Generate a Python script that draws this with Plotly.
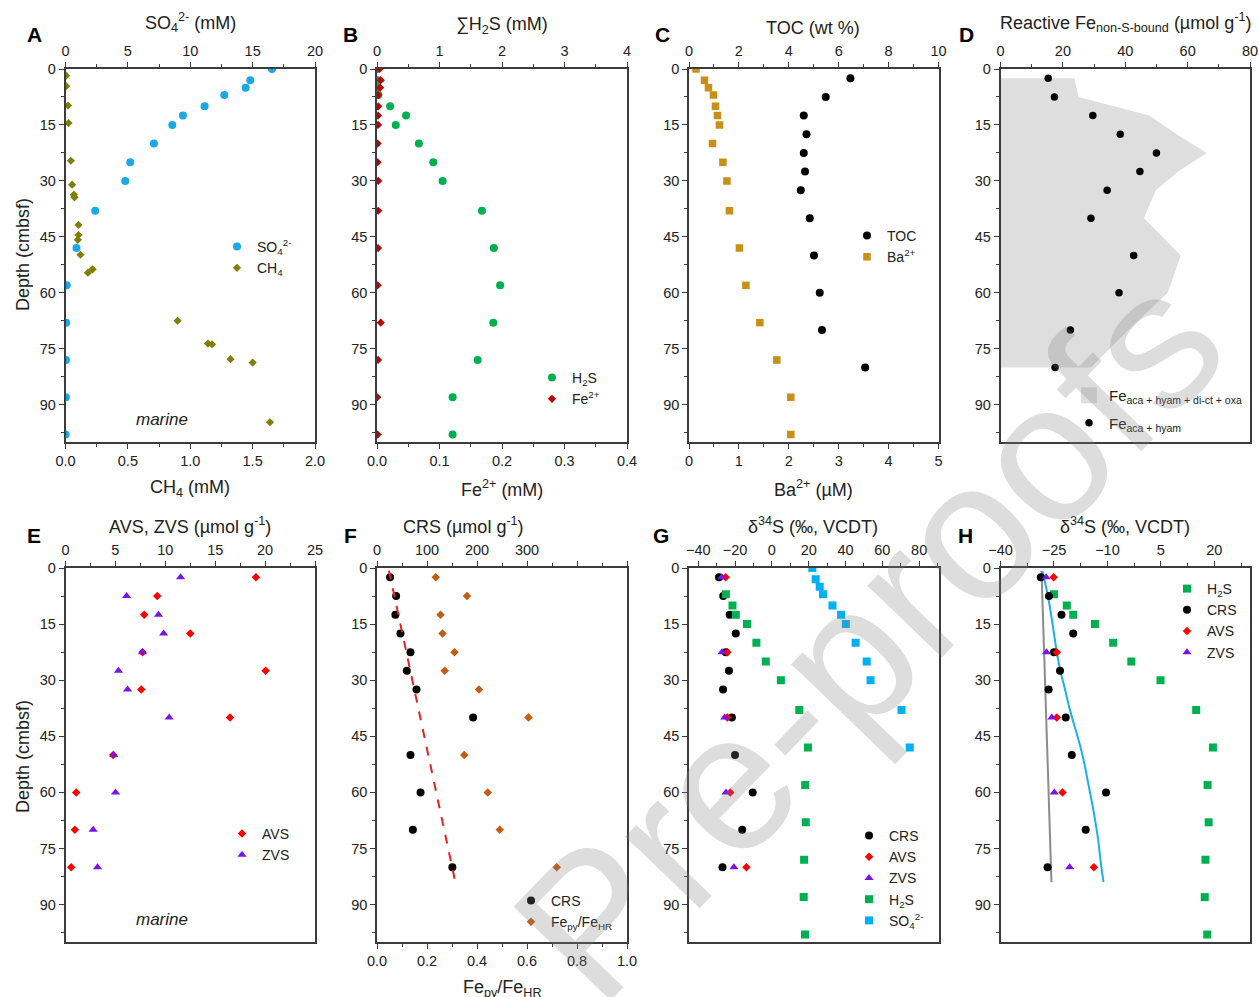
import plotly.graph_objects as go

W, H = 1259, 997
FONT = "Arial, 'Liberation Sans', sans-serif"
AX = "#3c3c3c"
TXT = "#222222"

# ---------------- data ----------------
# porewater depths (cmbsf)
pw_depth = [0, 3, 5, 7, 10, 12.5, 15, 20, 25, 30, 38, 48, 58, 68, 78, 88, 98]
# Panel A
so4_mM = [16.55, 14.81, 14.44, 12.73, 11.15, 9.41, 8.56, 7.09, 5.19, 4.79, 2.38, 0.88, 0.10, 0.05, 0.03, 0.03, 0.0]
ch4_depth = [1.8, 4.6, 9.8, 14.5, 24.6, 31.0, 33.7, 34.4, 41.8, 44.5, 45.8, 49.8, 54.6, 53.7, 67.5, 73.6, 73.8, 77.8, 78.7, 94.7]
ch4_mM = [0.005, 0.005, 0.02, 0.024, 0.043, 0.053, 0.067, 0.072, 0.104, 0.104, 0.099, 0.12, 0.18, 0.217,
          0.898, 1.142, 1.174, 1.323, 1.50, 1.639]
# Panel B
h2s_mM = [0.0, 0.01, 0.01, 0.02, 0.21, 0.465, 0.30, 0.67, 0.90, 1.05, 1.68, 1.87, 1.97, 1.86, 1.61, 1.21, 1.21]
fe2_mM = [0.004, 0.006, 0.005, 0.002, 0.002, 0.0016, 0.0016, 0.001, 0.001, 0.002, 0.002, 0.0016, 0.001,
          0.006, 0.0016, 0.0005, 0.001]
# solid-phase depths
solid_depth = [2.5, 7.5, 12.5, 17.5, 22.5, 27.5, 32.5, 40, 50, 60, 70, 80]
# Panel C
toc_wt = [6.47, 5.48, 4.60, 4.71, 4.60, 4.65, 4.48, 4.84, 5.01, 5.24, 5.33, 7.06]
ba_uM = [0.14, 0.31, 0.39, 0.49, 0.53, 0.57, 0.61, 0.47, 0.68, 0.76, 0.81, 1.01, 1.14, 1.42, 1.76, 2.04, 2.04]
# Panel D
fe_total = [23.7, 25.0, 47.7, 56.5, 66.1, 57.0, 49.8, 46.0, 57.8, 53.6, 41.0, 29.0]
fe_aca_hyam = [15.3, 17.3, 29.6, 38.4, 50.0, 44.7, 34.2, 29.0, 42.7, 38.0, 22.4, 17.5]
# Panel E
avs = [19.08, 9.19, 7.89, 12.5, 7.72, 20.05, 7.59, 16.48, 4.78, 1.07, 0.94, 0.57]
zvs = [11.53, 6.12, 9.32, 9.83, 7.72, 5.31, 6.22, 10.39, 4.85, 5.01, 2.77, 3.21]
# Panel F
crs = [26.1, 38.2, 36.8, 46.9, 67.0, 59.6, 79.0, 192.2, 67.0, 87.1, 71.7, 150.7]
fepy_fehr = [0.235, 0.36, 0.254, 0.262, 0.31, 0.271, 0.408, 0.606, 0.349, 0.443, 0.491, 0.719]
trend_depth = [0.7, 83.9]
trend_fepy = [0.048, 0.313]
# Panels G / H  (delta34S, permil VCDT)
d34s_crs = [-28.7, -26.4, -22.9, -19.6, -25.0, -23.3, -26.5, -21.7, -20.0, -10.4, -16.1, -26.8]
iso_depth = [2.5, 22.5, 40, 60, 80]
d34s_avs = [-25.1, -24.2, -24.2, -22.6, -13.8]
d34s_zvs = [-27.2, -27.1, -25.6, -24.9, -20.6]
h2s_iso_depth = [7, 10, 12.5, 15, 20, 25, 30, 38, 48, 58, 68, 78, 88, 98]
d34s_h2s = [-25.0, -21.4, -19.6, -13.5, -8.4, -3.3, 4.9, 14.9, 19.6, 18.1, 18.4, 17.5, 17.3, 18.0]
so4_iso_depth = [0, 3, 5, 7, 10, 12.5, 15, 20, 25, 30, 38, 48]
d34s_so4 = [22.0, 23.8, 26.0, 27.8, 32.9, 37.6, 40.2, 45.5, 51.5, 53.6, 70.4, 74.9]
# Panel H model lines
gray_depth = [0.7, 84]
gray_d34s = [-28.5, -25.7]
model_depth = [0.9, 7.5, 12.5, 17.5, 22.5, 27.5, 32.5, 38, 44, 50, 57.5, 65, 72, 80, 84]
model_d34s = [-28.2, -26.7, -25.8, -25.0, -24.2, -23.2, -21.9, -20.5, -18.7, -17.0, -15.4, -13.9, -12.7, -11.7, -11.1]

depth_ticks = [0, 15, 30, 45, 60, 75, 90]

# ---------------- layout helpers ----------------
def px2x(p):
    return p / W


def px2y(p):
    return 1 - p / H


rows_y = [(69, 442), (568, 942)]
cols_x = [(65.5, 315), (377, 627), (689, 938.5), (1000.5, 1250)]

panels = [
    dict(row=0, col=0, top=dict(range=[0, 20], dtick=5, minor=2.5),
         bottom=dict(range=[0, 2], dtick=0.5, minor=0.25, fmt=".1f")),
    dict(row=0, col=1, top=dict(range=[0, 4], dtick=1, minor=0.5),
         bottom=dict(range=[0, 0.4], dtick=0.1, minor=0.05, fmt=".1f")),
    dict(row=0, col=2, top=dict(range=[0, 10], dtick=2, minor=1),
         bottom=dict(range=[0, 5], dtick=1, minor=0.5)),
    dict(row=0, col=3, top=dict(range=[0, 80], dtick=20, minor=10), bottom=None),
    dict(row=1, col=0, top=dict(range=[0, 25], dtick=5, minor=2.5), bottom=None),
    dict(row=1, col=1, top=dict(range=[0, 500], tickvals=[0, 100, 200, 300, 400, 500],
                                ticktext=["0", "100", "200", "300", "", ""], minor=50),
         bottom=dict(range=[0, 1], dtick=0.2, minor=0.1, fmt=".1f")),
    dict(row=1, col=2, top=dict(range=[-45, 90.5], dtick=20, tick0=-40, minor=10), bottom=None),
    dict(row=1, col=3, top=dict(range=[-40, 30], dtick=15, tick0=-40, minor=7.5), bottom=None),
]

TICKFONT = dict(size=14.5, color=TXT, family=FONT)


def xaxis_cfg(spec, side, domain, anchor, mirror, overlaying=None):
    d = dict(anchor=anchor, side=side, range=spec["range"], autorange=False,
             showline=True, linecolor=AX, linewidth=1.5, mirror=mirror,
             ticks="outside", ticklen=5, tickwidth=1.2, tickcolor=AX,
             showgrid=False, zeroline=False, tickfont=TICKFONT, automargin=False,
             minor=dict(tickmode="linear", ticks="outside", ticklen=3, tickwidth=1.2, tickcolor=AX,
                        dtick=spec["minor"], tick0=spec.get("tick0", 0), showgrid=False))
    if "tickvals" in spec:
        d.update(tickmode="array", tickvals=spec["tickvals"], ticktext=spec["ticktext"])
    else:
        d.update(tickmode="linear", tick0=spec.get("tick0", 0), dtick=spec["dtick"])
    if spec.get("fmt"):
        d["tickformat"] = spec["fmt"]
    if overlaying:
        d["overlaying"] = overlaying
    else:
        d["domain"] = domain
    return d


layout = dict(width=W, height=H, margin=dict(l=0, r=0, t=0, b=0, pad=0, autoexpand=False),
              paper_bgcolor="white", plot_bgcolor="rgba(0,0,0,0)",
              font=dict(family=FONT, color=TXT))
refs = []
for i, p in enumerate(panels):
    t, b, yi = 2 * i + 1, 2 * i + 2, i + 1
    tname = "xaxis" if t == 1 else f"xaxis{t}"
    tref = "x" if t == 1 else f"x{t}"
    bname, bref = f"xaxis{b}", f"x{b}"
    yname = "yaxis" if yi == 1 else f"yaxis{yi}"
    yref = "y" if yi == 1 else f"y{yi}"
    x0, x1 = cols_x[p["col"]]
    ytop, ybot = rows_y[p["row"]]
    xd = [px2x(x0), px2x(x1)]
    yd = [px2y(ybot), px2y(ytop)]
    layout[tname] = xaxis_cfg(p["top"], "top", xd, yref, mirror=(p["bottom"] is None))
    if p["bottom"] is not None:
        layout[bname] = xaxis_cfg(p["bottom"], "bottom", xd, yref, mirror=False, overlaying=tref)
    layout[yname] = dict(domain=yd, anchor=tref, range=[100, 0], autorange=False,
                         tickmode="array", tickvals=depth_ticks, automargin=False,
                         showline=True, linecolor=AX, linewidth=1.5, mirror=True,
                         ticks="outside", ticklen=5, tickwidth=1.2, tickcolor=AX,
                         showgrid=False, zeroline=False, tickfont=TICKFONT,
                         minor=dict(tickmode="linear", tick0=0, dtick=7.5, ticks="outside", ticklen=3,
                                    tickwidth=1.2, tickcolor=AX, showgrid=False))
    refs.append((tref, bref, yref))

# ---------------- legends ----------------
LX, LY = 20, 15


def legend_cfg(mx, my, size=14, gap=0):
    return dict(x=px2x(mx - LX), y=px2y(my - LY), xanchor="left", yanchor="top",
                bgcolor="rgba(0,0,0,0)", borderwidth=0, tracegroupgap=gap,
                font=dict(size=size, color=TXT, family=FONT))


legend_pos = [(237, 246), (552, 377), (867, 235), (1089, 394), (242, 833), (531, 900), (869, 835), (1187, 588)]
for k, (mx, my) in enumerate(legend_pos):
    name = "legend" if k == 0 else f"legend{k + 1}"
    if k == 3:
        layout[name] = legend_cfg(mx, my, size=15, gap=5)
    else:
        layout[name] = legend_cfg(mx, my)


def lg(k):
    return "legend" if k == 0 else f"legend{k + 1}"


fig = go.Figure()


def pts(x, y, axes, name, color, symbol, size, leg, showlegend=True, group=None):
    fig.add_trace(go.Scatter(x=x, y=y, xaxis=axes[0], yaxis=axes[1], mode="markers", name=name,
                             marker=dict(color=color, symbol=symbol, size=size, line=dict(width=0)),
                             legend=lg(leg), showlegend=showlegend, legendgroup=group))


# A
tA, bA, yA = refs[0]
pts(so4_mM, pw_depth, (tA, yA), "SO<sub>4</sub><sup>2-</sup>", "#1BA8E6", "circle", 8, 0)
pts(ch4_mM, ch4_depth, (bA, yA), "CH<sub>4</sub>", "#7F7F08", "diamond", 6.3, 0)
# B
tB, bB, yB = refs[1]
pts(h2s_mM, pw_depth, (tB, yB), "H<sub>2</sub>S", "#00B050", "circle", 8, 1)
pts(fe2_mM, pw_depth, (bB, yB), "Fe<sup>2+</sup>", "#C00000", "diamond", 6.3, 1)
# C
tC, bC, yC = refs[2]
pts(toc_wt, solid_depth, (tC, yC), "TOC", "black", "circle", 8, 2)
pts(ba_uM, pw_depth, (bC, yC), "Ba<sup>2+</sup>", "#C98F16", "square", 7.5, 2)
# D
tD, bD, yD = refs[3]
fig.add_trace(go.Scatter(x=fe_total, y=solid_depth, xaxis=tD, yaxis=yD, mode="lines", fill="tozerox",
                         fillcolor="#DEDEDE", line=dict(width=0, color="#DEDEDE"), showlegend=False,
                         name="Fe<sub>aca + hyam + di-ct + oxa</sub>", legend=lg(3)))
# legend key for the shaded area (no data drawn)
fig.add_trace(go.Scatter(x=[None], y=[None], xaxis=tD, yaxis=yD, mode="markers",
                         marker=dict(symbol="square", size=16, color="#DEDEDE"),
                         name="Fe<sub>aca + hyam + di-ct + oxa</sub>", legend=lg(3), legendgroup="d1"))
pts(fe_aca_hyam, solid_depth, (tD, yD), "Fe<sub>aca + hyam</sub>", "black", "circle", 7.5, 3, group="d2")
# E
tE, bE, yE = refs[4]
pts(avs, solid_depth, (tE, yE), "AVS", "#FF0000", "diamond", 6.5, 4)
pts(zvs, solid_depth, (tE, yE), "ZVS", "#7B12E8", "triangle-up", 8, 4)
# F
tF, bF, yF = refs[5]
fig.add_trace(go.Scatter(x=trend_fepy, y=trend_depth, xaxis=bF, yaxis=yF, mode="lines",
                         line=dict(color="#E8202A", width=2, dash="dash"), showlegend=False))
pts(crs, solid_depth, (tF, yF), "CRS", "black", "circle", 8, 5)
pts(fepy_fehr, solid_depth, (bF, yF), "Fe<sub>py</sub>/Fe<sub>HR</sub>", "#C55A11", "diamond", 6.5, 5)
# G
tG, bG, yG = refs[6]
pts(d34s_crs, solid_depth, (tG, yG), "CRS", "black", "circle", 8, 6)
pts(d34s_avs, iso_depth, (tG, yG), "AVS", "#FF0000", "diamond", 6.5, 6)
pts(d34s_zvs, iso_depth, (tG, yG), "ZVS", "#7B12E8", "triangle-up", 8, 6)
pts(d34s_h2s, h2s_iso_depth, (tG, yG), "H<sub>2</sub>S", "#00B050", "square", 8, 6)
pts(d34s_so4, so4_iso_depth, (tG, yG), "SO<sub>4</sub><sup>2-</sup>", "#00B0F0", "square", 8, 6)
# H
tH, bH, yH = refs[7]
fig.add_trace(go.Scatter(x=gray_d34s, y=gray_depth, xaxis=tH, yaxis=yH, mode="lines",
                         line=dict(color="#8C8C8C", width=2), showlegend=False))
fig.add_trace(go.Scatter(x=model_d34s, y=model_depth, xaxis=tH, yaxis=yH, mode="lines",
                         line=dict(color="#1CB0E8", width=2, shape="spline"), showlegend=False))
pts(d34s_h2s, h2s_iso_depth, (tH, yH), "H<sub>2</sub>S", "#00B050", "square", 8, 7)
pts(d34s_crs, solid_depth, (tH, yH), "CRS", "black", "circle", 8, 7)
pts(d34s_avs, iso_depth, (tH, yH), "AVS", "#FF0000", "diamond", 6.5, 7)
pts(d34s_zvs, iso_depth, (tH, yH), "ZVS", "#7B12E8", "triangle-up", 8, 7)

# ---------------- annotations ----------------
ann = []


def text(x, y, s, size=18, angle=0, bold=False, italic=False, color=TXT):
    if bold:
        s = f"<b>{s}</b>"
    if italic:
        s = f"<i>{s}</i>"
    ann.append(dict(x=px2x(x), y=px2y(y), xref="paper", yref="paper", text=s, showarrow=False,
                    xanchor="center", yanchor="middle", textangle=angle,
                    font=dict(size=size, color=color, family=FONT)))


titles = [
    (190, 22, "SO<sub>4</sub><sup>2-</sup> (mM)"), (190, 488, "CH<sub>4</sub> (mM)"),
    (502, 25, "∑H<sub>2</sub>S (mM)"), (502, 488, "Fe<sup>2+</sup> (mM)"),
    (813, 28, "TOC (wt %)"), (813, 488, "Ba<sup>2+</sup> (µM)"),
    (1125, 22, "Reactive Fe<sub>non-S-bound</sub> (µmol g<sup>-1</sup>)"),
    (190, 525, "AVS, ZVS (µmol g<sup>-1</sup>)"),
    (463, 525, "CRS (µmol g<sup>-1</sup>)"), (502, 988, "Fe<sub>py</sub>/Fe<sub>HR</sub>"),
    (813, 525, "δ<sup>34</sup>S (‰, VCDT)"), (1125, 525, "δ<sup>34</sup>S (‰, VCDT)"),
]
for x, y, s in titles:
    text(x, y, s, 18)
text(23, 255, "Depth (cmbsf)", 18, angle=-90)
text(23, 757, "Depth (cmbsf)", 18, angle=-90)
for x, y, s in [(34, 34, "A"), (350, 34, "B"), (662, 34, "C"), (966, 34, "D"),
                (34, 535, "E"), (350, 535, "F"), (661, 535, "G"), (965, 535, "H")]:
    text(x, y, s, 21, bold=True, color="black")
text(162, 419, "marine", 17, italic=True)
text(162, 919, "marine", 17, italic=True)
# watermark
text(868, 636, "Pre-proofs", 196, angle=-46, color="rgba(128,128,128,0.27)")

layout["annotations"] = ann
fig.update_layout(**layout)
fig.write_html("out.html")
